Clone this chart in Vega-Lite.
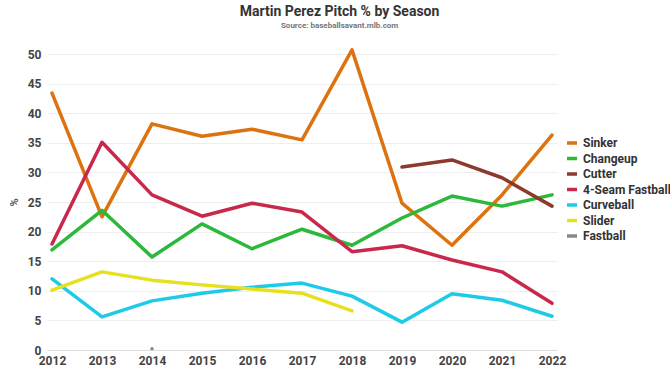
{
  "$schema": "https://vega.github.io/schema/vega-lite/v6.json",
  "width": 510,
  "height": 296,
  "autosize": {"type": "none"},
  "padding": {"left": 47, "top": 54, "right": 113, "bottom": 27},
  "background": "white",
  "title": {
    "text": "Martin Perez Pitch % by Season",
    "subtitle": "Source: baseballsavant.mlb.com",
    "anchor": "middle",
    "frame": "bounds",
    "font": "Roboto",
    "fontSize": 14,
    "fontWeight": "bold",
    "color": "#333333",
    "subtitleFont": "Roboto",
    "subtitleFontSize": 8,
    "subtitleFontWeight": "bold",
    "subtitleColor": "#777777",
    "subtitlePadding": 3,
    "offset": 18
  },
  "config": {
    "view": {"stroke": null},
    "font": "Roboto"
  },
  "data": {
    "values": [
      {"year": "2012", "pitch": "Sinker", "pct": 43.4},
      {"year": "2013", "pitch": "Sinker", "pct": 22.5},
      {"year": "2014", "pitch": "Sinker", "pct": 38.2},
      {"year": "2015", "pitch": "Sinker", "pct": 36.1},
      {"year": "2016", "pitch": "Sinker", "pct": 37.3},
      {"year": "2017", "pitch": "Sinker", "pct": 35.5},
      {"year": "2018", "pitch": "Sinker", "pct": 50.7},
      {"year": "2019", "pitch": "Sinker", "pct": 24.8},
      {"year": "2020", "pitch": "Sinker", "pct": 17.7},
      {"year": "2021", "pitch": "Sinker", "pct": 26.2},
      {"year": "2022", "pitch": "Sinker", "pct": 36.3},
      {"year": "2012", "pitch": "Changeup", "pct": 16.9},
      {"year": "2013", "pitch": "Changeup", "pct": 23.6},
      {"year": "2014", "pitch": "Changeup", "pct": 15.7},
      {"year": "2015", "pitch": "Changeup", "pct": 21.3},
      {"year": "2016", "pitch": "Changeup", "pct": 17.1},
      {"year": "2017", "pitch": "Changeup", "pct": 20.4},
      {"year": "2018", "pitch": "Changeup", "pct": 17.7},
      {"year": "2019", "pitch": "Changeup", "pct": 22.3},
      {"year": "2020", "pitch": "Changeup", "pct": 26.0},
      {"year": "2021", "pitch": "Changeup", "pct": 24.3},
      {"year": "2022", "pitch": "Changeup", "pct": 26.2},
      {"year": "2019", "pitch": "Cutter", "pct": 30.9},
      {"year": "2020", "pitch": "Cutter", "pct": 32.1},
      {"year": "2021", "pitch": "Cutter", "pct": 29.1},
      {"year": "2022", "pitch": "Cutter", "pct": 24.3},
      {"year": "2012", "pitch": "4-Seam Fastball", "pct": 17.9},
      {"year": "2013", "pitch": "4-Seam Fastball", "pct": 35.1},
      {"year": "2014", "pitch": "4-Seam Fastball", "pct": 26.2},
      {"year": "2015", "pitch": "4-Seam Fastball", "pct": 22.6},
      {"year": "2016", "pitch": "4-Seam Fastball", "pct": 24.8},
      {"year": "2017", "pitch": "4-Seam Fastball", "pct": 23.3},
      {"year": "2018", "pitch": "4-Seam Fastball", "pct": 16.6},
      {"year": "2019", "pitch": "4-Seam Fastball", "pct": 17.6},
      {"year": "2020", "pitch": "4-Seam Fastball", "pct": 15.2},
      {"year": "2021", "pitch": "4-Seam Fastball", "pct": 13.2},
      {"year": "2022", "pitch": "4-Seam Fastball", "pct": 7.9},
      {"year": "2012", "pitch": "Curveball", "pct": 12.0},
      {"year": "2013", "pitch": "Curveball", "pct": 5.6},
      {"year": "2014", "pitch": "Curveball", "pct": 8.3},
      {"year": "2015", "pitch": "Curveball", "pct": 9.6},
      {"year": "2016", "pitch": "Curveball", "pct": 10.6},
      {"year": "2017", "pitch": "Curveball", "pct": 11.3},
      {"year": "2018", "pitch": "Curveball", "pct": 9.1},
      {"year": "2019", "pitch": "Curveball", "pct": 4.7},
      {"year": "2020", "pitch": "Curveball", "pct": 9.5},
      {"year": "2021", "pitch": "Curveball", "pct": 8.4},
      {"year": "2022", "pitch": "Curveball", "pct": 5.7},
      {"year": "2012", "pitch": "Slider", "pct": 10.1},
      {"year": "2013", "pitch": "Slider", "pct": 13.2},
      {"year": "2014", "pitch": "Slider", "pct": 11.8},
      {"year": "2015", "pitch": "Slider", "pct": 11.0},
      {"year": "2016", "pitch": "Slider", "pct": 10.3},
      {"year": "2017", "pitch": "Slider", "pct": 9.6},
      {"year": "2018", "pitch": "Slider", "pct": 6.6},
      {"year": "2014", "pitch": "Fastball", "pct": 0.2}
    ]
  },
  "mark": {"type": "line", "strokeWidth": 3.5, "strokeCap": "round", "strokeJoin": "round"},
  "encoding": {
    "x": {
      "field": "year",
      "type": "ordinal",
      "scale": {"type": "point", "padding": 0.1},
      "axis": {
        "title": null,
        "labelAngle": 0,
        "labelFont": "Roboto",
        "labelFontSize": 12,
        "labelFontWeight": "bold",
        "labelColor": "#444444",
        "labelPadding": 5,
        "domainColor": "#dddddd",
        "ticks": false,
        "grid": false
      }
    },
    "y": {
      "field": "pct",
      "type": "quantitative",
      "scale": {"domain": [0, 50]},
      "axis": {
        "title": "%",
        "titleFont": "Roboto",
        "titleFontSize": 11,
        "titleFontWeight": "bold",
        "titleColor": "#555555",
        "titleAngle": -90,
        "titlePadding": 8,
        "values": [0, 5, 10, 15, 20, 25, 30, 35, 40, 45, 50],
        "labelFont": "Roboto",
        "labelFontSize": 12,
        "labelFontWeight": "bold",
        "labelColor": "#444444",
        "labelPadding": 6,
        "domain": false,
        "ticks": false,
        "gridColor": "#eeeeee"
      }
    },
    "color": {
      "field": "pitch",
      "type": "nominal",
      "scale": {
        "domain": ["Sinker", "Changeup", "Cutter", "4-Seam Fastball", "Curveball", "Slider", "Fastball"],
        "range": ["#DD7210", "#2CB83A", "#8B3A2B", "#C9284B", "#1ECBE6", "#E7E01E", "#888888"]
      },
      "legend": {
        "title": null,
        "symbolType": "stroke",
        "symbolStrokeWidth": 3.5,
        "symbolSize": 100,
        "labelFont": "Roboto",
        "labelFontSize": 12,
        "labelFontWeight": "bold",
        "labelColor": "#333333",
        "rowPadding": 1.5,
        "orient": "none",
        "legendX": 518,
        "legendY": 82
      }
    }
  }
}
